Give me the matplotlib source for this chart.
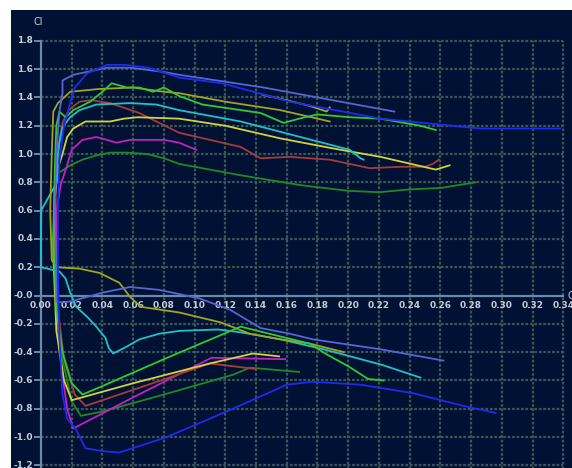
import matplotlib
matplotlib.use("Agg")
import matplotlib.pyplot as plt
import numpy as np

# drag polars: (cd, cl) traced from the negative stall end to the positive stall end
blue_cd = [0.296, 0.275, 0.242, 0.208, 0.177, 0.160, 0.125, 0.082, 0.051, 0.040, 0.029, 0.023, 0.017, 0.014,
           0.012, 0.011, 0.011, 0.012, 0.015, 0.019, 0.022, 0.030, 0.043, 0.055, 0.070, 0.090, 0.118, 0.162,
           0.221, 0.286, 0.338]
blue_cl = [-0.83, -0.78, -0.69, -0.63, -0.61, -0.63, -0.80, -1.00, -1.11, -1.10, -1.08, -0.95, -0.87, -0.70,
           -0.30, 0.20, 0.60, 0.95, 1.20, 1.36, 1.47, 1.57, 1.63, 1.63, 1.61, 1.54, 1.50, 1.37,
           1.25, 1.18, 1.18]

peri_cd = [0.262, 0.221, 0.177, 0.162, 0.143, 0.123, 0.103, 0.077, 0.058, 0.040, 0.030, 0.020, 0.014, 0.010,
           0.010, 0.009, 0.010, 0.012, 0.014, 0.014, 0.021, 0.043, 0.058, 0.080, 0.090, 0.145, 0.190, 0.230]
peri_cl = [-0.46, -0.38, -0.31, -0.27, -0.23, -0.10, -0.02, 0.04, 0.06, 0.02, -0.01, -0.04, -0.05, -0.04,
           0.20, 0.60, 1.00, 1.30, 1.43, 1.52, 1.56, 1.61, 1.61, 1.58, 1.56, 1.47, 1.38, 1.30]

olive_cd = [0.197, 0.175, 0.156, 0.136, 0.117, 0.090, 0.065, 0.058, 0.051, 0.038, 0.025, 0.010, 0.007, 0.006,
            0.007, 0.008, 0.011, 0.019, 0.038, 0.060, 0.080, 0.090, 0.120, 0.156, 0.188]
olive_cl = [-0.40, -0.34, -0.31, -0.27, -0.19, -0.12, -0.08, -0.01, 0.09, 0.16, 0.19, 0.20, 0.25, 0.60,
            1.00, 1.30, 1.36, 1.44, 1.46, 1.47, 1.44, 1.43, 1.37, 1.31, 1.23]

khaki_cd = [0.144, 0.160, 0.175, 0.186, 0.188]
khaki_cl = [1.42, 1.38, 1.34, 1.30, 1.33]

green_cd = [0.223, 0.213, 0.200, 0.185, 0.175, 0.156, 0.130, 0.080, 0.040, 0.027, 0.020, 0.014, 0.010, 0.008,
            0.009, 0.010, 0.012, 0.016, 0.021, 0.032, 0.040, 0.046, 0.056, 0.064, 0.073, 0.080, 0.090, 0.105,
            0.143, 0.158, 0.168, 0.180, 0.201, 0.221, 0.247, 0.257]
green_cl = [-0.60, -0.59, -0.50, -0.41, -0.34, -0.29, -0.22, -0.45, -0.64, -0.70, -0.62, -0.40, -0.10, 0.40,
            0.90, 1.20, 1.30, 1.26, 1.31, 1.37, 1.44, 1.50, 1.47, 1.47, 1.44, 1.47, 1.41, 1.35,
            1.29, 1.22, 1.25, 1.28, 1.26, 1.25, 1.20, 1.17]

red_cd = [0.140, 0.110, 0.070, 0.040, 0.029, 0.022, 0.015, 0.011, 0.009, 0.010, 0.012, 0.014, 0.018, 0.025,
          0.033, 0.045, 0.064, 0.090, 0.130, 0.143, 0.162, 0.188, 0.214, 0.234, 0.250, 0.255, 0.259]
red_cl = [-0.52, -0.48, -0.63, -0.74, -0.78, -0.70, -0.45, -0.10, 0.40, 0.90, 1.10, 1.22, 1.31, 1.37,
          1.38, 1.36, 1.29, 1.15, 1.05, 0.97, 0.98, 0.96, 0.90, 0.91, 0.91, 0.93, 0.96]

cyan_cd = [0.247, 0.222, 0.184, 0.156, 0.130, 0.115, 0.090, 0.077, 0.064, 0.056, 0.047, 0.044, 0.042, 0.036,
           0.030, 0.023, 0.019, 0.016, 0.012, 0.000, 0.000, 0.0104, 0.011, 0.012, 0.014, 0.019, 0.025, 0.036,
           0.058, 0.075, 0.090, 0.130, 0.169, 0.201, 0.208, 0.210]
cyan_cl = [-0.58, -0.49, -0.38, -0.31, -0.26, -0.24, -0.25, -0.27, -0.31, -0.36, -0.41, -0.37, -0.30, -0.22,
           -0.15, -0.08, 0.02, 0.12, 0.17, 0.20, 0.60, 0.80, 1.00, 1.08, 1.19, 1.26, 1.31, 1.35,
           1.36, 1.35, 1.31, 1.23, 1.12, 1.03, 0.97, 0.96]

yellow_cd = [0.155, 0.138, 0.110, 0.060, 0.030, 0.020, 0.015, 0.010, 0.008, 0.009, 0.011, 0.014, 0.017, 0.021,
             0.029, 0.045, 0.054, 0.063, 0.090, 0.120, 0.156, 0.190, 0.221, 0.249, 0.257, 0.266]
yellow_cl = [-0.43, -0.41, -0.48, -0.62, -0.71, -0.74, -0.60, -0.25, 0.30, 0.70, 0.90, 1.00, 1.12, 1.18,
             1.23, 1.23, 1.25, 1.26, 1.25, 1.20, 1.11, 1.04, 0.98, 0.91, 0.89, 0.92]

magenta_cd = [0.159, 0.111, 0.060, 0.021, 0.017, 0.012, 0.010, 0.010, 0.013, 0.017, 0.020, 0.027, 0.036, 0.043,
              0.049, 0.058, 0.069, 0.080, 0.090, 0.101]
magenta_cl = [-0.45, -0.44, -0.72, -0.94, -0.80, -0.40, 0.00, 0.60, 0.79, 0.92, 1.03, 1.10, 1.12, 1.10,
              1.08, 1.10, 1.10, 1.10, 1.08, 1.03]

dgreen_cd = [0.168, 0.136, 0.125, 0.080, 0.040, 0.026, 0.020, 0.014, 0.010, 0.008, 0.009, 0.010, 0.012, 0.019,
             0.027, 0.036, 0.045, 0.056, 0.069, 0.080, 0.090, 0.130, 0.169, 0.200, 0.220, 0.240, 0.260, 0.283]
dgreen_cl = [-0.54, -0.51, -0.56, -0.70, -0.82, -0.85, -0.75, -0.45, -0.10, 0.40, 0.75, 0.85, 0.87, 0.92,
             0.96, 0.99, 1.01, 1.01, 1.00, 0.97, 0.93, 0.85, 0.78, 0.74, 0.73, 0.75, 0.76, 0.80]

polars = [
    (dgreen_cd, dgreen_cl, "#1f8a22"),
    (magenta_cd, magenta_cl, "#c21fc4"),
    (red_cd, red_cl, "#a83a3a"),
    (yellow_cd, yellow_cl, "#d2d23c"),
    (cyan_cd, cyan_cl, "#1fc2c8"),
    (olive_cd, olive_cl, "#a3a31c"),
    (khaki_cd, khaki_cl, "#a8a428"),
    (green_cd, green_cl, "#2fcb2f"),
    (peri_cd, peri_cl, "#5565d4"),
    (blue_cd, blue_cl, "#1b2cf2"),
]

x_ticks = np.arange(0, 0.3401, 0.02)
y_ticks = np.arange(-1.2, 1.801, 0.2)

BG = "#011133"
GRID = "#3b5858"
AXIS = "#6d89aa"
TXT = "#c4ccd6"

fig = plt.figure(figsize=(5.72, 4.68), dpi=100, facecolor="white")
ax = fig.add_axes([11 / 572, 0, 561 / 572, 458 / 468])
ax.set_facecolor(BG)
ax.set_xlim(-30 / 1536, 531 / 1536)
ax.set_ylim(-1.2191, 2.018)
for s in ax.spines.values():
    s.set_visible(False)
ax.set_xticks([])
ax.set_yticks([])

# dotted grid
for x in x_ticks[1:]:
    ax.plot([x, x], [-1.25, 1.8], color=GRID, lw=1.6, ls=(0, (1.2, 0.8)), zorder=1)
for y in y_ticks:
    if abs(y) > 1e-9:
        ax.plot([0, 0.34], [y, y], color=GRID, lw=1.6, ls=(0, (1.2, 0.8)), zorder=1)

# axes through the origin
ax.plot([0, 0], [-1.25, 1.8], color=AXIS, lw=1.6, zorder=2)
ax.plot([0, 0.34], [0, 0], color=AXIS, lw=1.6, zorder=2)
for y in y_ticks:
    ax.plot([-0.004, 0], [y, y], color=AXIS, lw=1.4, zorder=2)

for y in y_ticks:
    lab = "-0.0" if abs(y) < 1e-9 else f"{y:.1f}"
    ax.text(-0.0052, y, lab, color=TXT, fontsize=6.5, ha="right", va="center", fontweight="bold")
for x in x_ticks:
    ax.text(x, -0.074, f"{x:.2f}", color=TXT, fontsize=6.5, ha="center", va="center", fontweight="bold")
ax.text(-0.002, 1.93, "Cl", color=TXT, fontsize=7, ha="center", va="center")
ax.text(0.3425, 0.0, "Cd", color=TXT, fontsize=7, ha="left", va="center", clip_on=False)

for cd, cl, col in polars:
    ax.plot(cd, cl, color=col, lw=1.3, zorder=3, solid_joinstyle="round")

fig.savefig("out.png", dpi=100, facecolor=fig.get_facecolor())
